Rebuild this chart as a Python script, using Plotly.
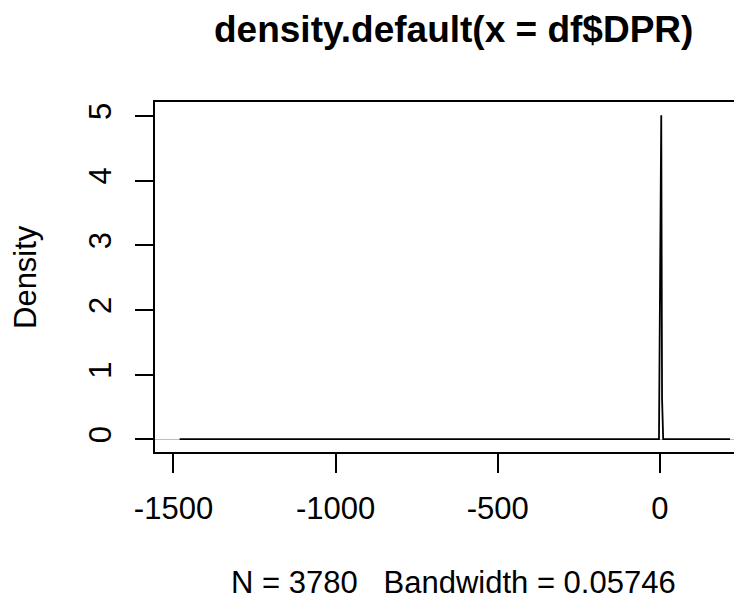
import plotly.graph_objects as go

# Density estimate
dens_x = [-1481, -3.0, -1.5, 0.5, 2.0, 4.0, 6.5, 10.0, 216]
dens_y = [0.003, 0.003, 1.10, 3.05, 5.01, 5.01, 0.63, 0.003, 0.003]

x_ticks = [-1500, -1000, -500, 0]
y_ticks = [0, 1, 2, 3, 4, 5]

title_text = "density.default(x = df$DPR)"
xlab_text = "N = 3780   Bandwidth = 0.05746"
ylab_text = "Density"

FONT = "Liberation Sans, Arial, sans-serif"
OFF = 8  # page body margin
W, H = 742 - OFF, 599 - OFF
L, R, T, B = 155 - OFF, 0, 102 - OFF, 599 - 452
plot_w = W - L - R
plot_h = H - T - B

fig = go.Figure()
fig.add_trace(go.Scatter(x=dens_x, y=dens_y, mode="lines",
                         line=dict(color="black", width=1.8),
                         hoverinfo="skip", showlegend=False))

fig.update_layout(
    width=W, height=H,
    margin=dict(l=L, r=R, t=T, b=B, pad=0),
    paper_bgcolor="white", plot_bgcolor="white",
    font=dict(family=FONT, size=31, color="black"),
    showlegend=False,
)
fig.update_xaxes(
    range=[-1557, 253], tickvals=x_ticks, ticktext=[str(v) for v in x_ticks],
    ticks="outside", ticklen=19, tickwidth=1.6, tickcolor="black",
    showline=True, linecolor="black", linewidth=1.6, mirror=True,
    showgrid=False, zeroline=False, ticklabelstandoff=9,
    tickfont=dict(family=FONT, size=31, color="black"),
)
fig.update_yaxes(
    range=[-0.196, 5.216], tickvals=y_ticks, ticktext=[str(v) for v in y_ticks],
    ticks="outside", ticklen=18, tickwidth=1.6, tickcolor="black",
    showline=True, linecolor="black", linewidth=1.6, mirror=False,
    showgrid=False, zeroline=True, zerolinecolor="#BEBEBE", zerolinewidth=1,
    tickangle=-90, ticklabelstandoff=12,
    tickfont=dict(family=FONT, size=31, color="black"),
)

def px_to_paper_x(px):
    return (px - OFF - L) / plot_w

def px_to_paper_y(py):
    return (H - B - (py - OFF)) / plot_h

fig.add_annotation(text="<b>" + title_text + "</b>", xref="paper", yref="paper",
                   x=px_to_paper_x(453.5), y=px_to_paper_y(30), xanchor="center", yanchor="middle",
                   showarrow=False, font=dict(family=FONT, size=37, color="black"))
fig.add_annotation(text=xlab_text, xref="paper", yref="paper",
                   x=px_to_paper_x(453.5), y=px_to_paper_y(582), xanchor="center", yanchor="middle",
                   showarrow=False, font=dict(family=FONT, size=31, color="black"))
fig.add_annotation(text=ylab_text, xref="paper", yref="paper", textangle=-90,
                   x=px_to_paper_x(25), y=px_to_paper_y(277), xanchor="center", yanchor="middle",
                   showarrow=False, font=dict(family=FONT, size=31, color="black"))

fig.write_html("out.html")
